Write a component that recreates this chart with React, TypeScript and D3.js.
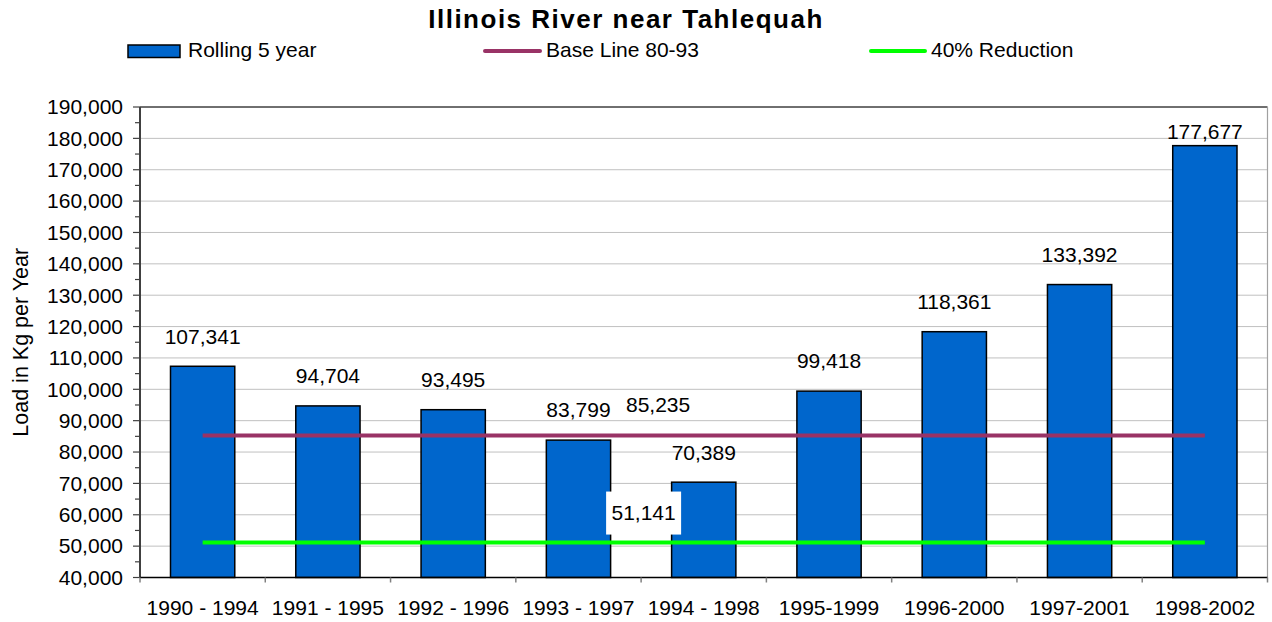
import React from "react";
import { scaleBand, scaleLinear, range, format } from "d3";

// periods and 5-year rolling loads (kg / yr)
const periods = [
  "1990 - 1994",
  "1991 - 1995",
  "1992 - 1996",
  "1993 - 1997",
  "1994 - 1998",
  "1995-1999",
  "1996-2000",
  "1997-2001",
  "1998-2002",
];
const rolling = [107341, 94704, 93495, 83799, 70389, 99418, 118361, 133392, 177677];
const baseLine = 85235;
const reduction40 = 51141;
const yTicks = range(40000, 190001, 10000);

const W = 1272;
const H = 622;
const margin = { top: 107, right: 4.5, bottom: 44.5, left: 140 };
const FONT = "'Liberation Sans', Arial, sans-serif";
const FS = 21;
const BAR = "#0066CC";
const BASE = "#993366";
const GREEN = "#00FF00";

export default function App() {
  const x0 = margin.left;
  const x1 = W - margin.right;
  const y0 = H - margin.bottom;
  const y1 = margin.top;

  const pad = 0.487;
  const x = scaleBand<string>()
    .domain(periods)
    .range([x0, x1])
    .paddingInner(pad)
    .paddingOuter(pad / 2);
  const step = x.step();
  const bw = x.bandwidth();
  const y = scaleLinear().domain([40000, 190000]).range([y0, y1]);
  const fmt = format(",");

  const firstC = x(periods[0])! + bw / 2;
  const lastC = x(periods[periods.length - 1])! + bw / 2;
  const minor = range(45000, 190000, 10000);

  return (
    <svg
      width={W}
      height={H}
      style={{ position: "absolute", left: 0, top: 0, background: "#fff" }}
      fontFamily={FONT}
    >
      {/* title */}
      <text x={626} y={28} textAnchor="middle" fontSize={26} fontWeight="bold" letterSpacing={1.5}>
        Illinois River near Tahlequah
      </text>

      {/* legend */}
      <g fontSize={FS}>
        <rect x={128} y={45} width={52} height={12.5} fill={BAR} stroke="#000" strokeWidth={1.5} />
        <text x={188} y={57}>Rolling 5 year</text>
        <line x1={485} x2={540} y1={51} y2={51} stroke={BASE} strokeWidth={4} strokeLinecap="round" />
        <text x={546} y={57}>Base Line 80-93</text>
        <line x1={871} x2={925} y1={51} y2={51} stroke={GREEN} strokeWidth={4} strokeLinecap="round" />
        <text x={931} y={57}>40% Reduction</text>
      </g>

      {/* gridlines */}
      {yTicks.slice(1).map((t) => (
        <line key={t} x1={x0} x2={x1} y1={y(t)} y2={y(t)} stroke="#C0C0C0" strokeWidth={1} />
      ))}

      {/* frame */}
      <line x1={x0} x2={x1} y1={y1} y2={y1} stroke="#000" strokeWidth={1.2} />
      <line x1={x1} x2={x1} y1={y1} y2={y0} stroke="#A0A0A0" strokeWidth={1.2} />

      {/* bars */}
      {rolling.map((v, i) => (
        <rect
          key={periods[i]}
          x={x(periods[i])}
          y={y(v)}
          width={bw}
          height={y0 - y(v)}
          fill={BAR}
          stroke="#000"
          strokeWidth={1.5}
        />
      ))}

      {/* reference lines */}
      <line x1={firstC} x2={lastC} y1={y(baseLine)} y2={y(baseLine)} stroke={BASE} strokeWidth={4} />
      <line x1={firstC} x2={lastC} y1={y(reduction40)} y2={y(reduction40)} stroke={GREEN} strokeWidth={4} />

      {/* axes */}
      <line x1={x0} x2={x0} y1={y1} y2={y0} stroke="#404040" strokeWidth={2} />
      <line x1={x0} x2={x1} y1={y0} y2={y0} stroke="#000" strokeWidth={1.5} />
      {yTicks.map((t) => (
        <g key={t}>
          <line x1={x0 - 7} x2={x0} y1={y(t)} y2={y(t)} stroke="#404040" strokeWidth={1.2} />
          <text x={x0 - 17} y={y(t)} dy="0.35em" textAnchor="end" fontSize={FS}>
            {fmt(t)}
          </text>
        </g>
      ))}
      {minor.map((t) => (
        <line key={t} x1={x0 - 5} x2={x0} y1={y(t)} y2={y(t)} stroke="#404040" strokeWidth={1.2} />
      ))}
      {range(periods.length + 1).map((i) => (
        <line
          key={i}
          x1={x0 + i * step}
          x2={x0 + i * step}
          y1={y0}
          y2={y0 + 5}
          stroke="#808080"
          strokeWidth={1.5}
        />
      ))}
      {periods.map((p) => (
        <text key={p} x={x(p)! + bw / 2} y={y0 + 37} textAnchor="middle" fontSize={FS}>
          {p}
        </text>
      ))}

      {/* y axis title */}
      <text
        transform={`translate(27.5,${(y0 + y1) / 2}) rotate(-90)`}
        textAnchor="middle"
        fontSize={21.5}
      >
        Load in Kg per Year
      </text>

      {/* data labels */}
      {rolling.map((v, i) => {
        const top = y(v);
        const dy = Math.min(30, top - y1 - 25);
        return (
          <text
            key={periods[i]}
            x={x(periods[i])! + bw / 2}
            y={top - dy}
            dy="0.35em"
            textAnchor="middle"
            fontSize={FS}
          >
            {fmt(v)}
          </text>
        );
      })}
      <text x={x0 + 4 * step + 17} y={y(baseLine) - 31} dy="0.35em" textAnchor="middle" fontSize={FS}>
        {fmt(baseLine)}
      </text>
      <rect x={x0 + 4 * step - 35} y={y(reduction40) - 51} width={75} height={43} fill="#fff" />
      <text x={x0 + 4 * step + 2.5} y={y(reduction40) - 30} dy="0.35em" textAnchor="middle" fontSize={FS}>
        {fmt(reduction40)}
      </text>
    </svg>
  );
}
